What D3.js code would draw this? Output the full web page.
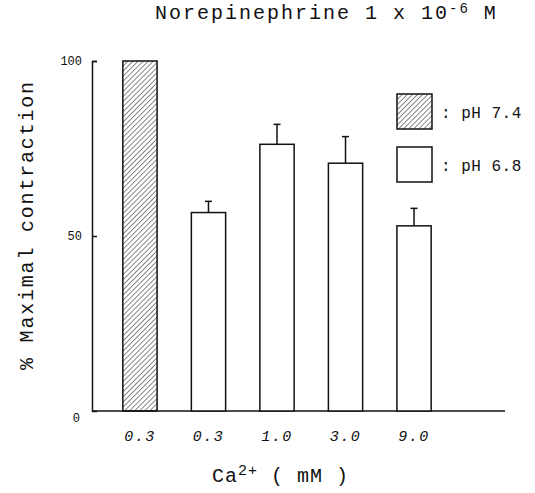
<!DOCTYPE html>
<html>
<head>
<meta charset="utf-8">
<script src="https://cdn.jsdelivr.net/npm/d3@7"></script>
<style>
  body { margin: 0; background: #fff; }
  svg text { font-family: "Liberation Mono", "DejaVu Sans Mono", monospace; fill: #111; }
</style>
</head>
<body>
<div id="chart"></div>
<script>
// data
const categories = ["0.3", "0.3", "1.0", "3.0", "9.0"];
const groups = ["pH 7.4", "pH 6.8", "pH 6.8", "pH 6.8", "pH 6.8"];
const means = [100, 56.7, 76.2, 70.8, 52.9];
const errors = [0, 3.2, 5.7, 7.6, 5.0];
const yTicks = [0, 50, 100];
const legendLabels = ["pH 7.4", "pH 6.8"];

const width = 535, height = 493;
const margin = { top: 61, left: 92, bottom: 82 };

const svg = d3.select("#chart")
  .append("svg")
  .attr("width", width)
  .attr("height", height);

// hatch pattern for pH 7.4
const defs = svg.append("defs");
defs.append("pattern")
  .attr("id", "hatch")
  .attr("patternUnits", "userSpaceOnUse")
  .attr("width", 3.6)
  .attr("height", 3.6)
  .attr("patternTransform", "rotate(45)")
  .append("line")
  .attr("x1", 0).attr("y1", 0)
  .attr("x2", 0).attr("y2", 3.6)
  .attr("stroke", "#111")
  .attr("stroke-width", 1);

const fillFor = g => g === "pH 7.4" ? "url(#hatch)" : "#fff";

// scales
const x = d3.scaleBand()
  .domain(d3.range(categories.length))
  .range([margin.left, 462])
  .paddingInner(0.5)
  .paddingOuter(0.45);

const y = d3.scaleLinear()
  .domain([0, 100])
  .range([height - margin.bottom, margin.top]);

// y axis
const yAxis = svg.append("g")
  .attr("transform", "translate(" + margin.left + ",0)")
  .call(d3.axisLeft(y).tickValues(yTicks).tickSize(-5).tickSizeOuter(-5).tickPadding(8));
yAxis.select(".domain").attr("stroke", "#111").attr("stroke-width", 1.5);
yAxis.selectAll(".tick line").attr("stroke", "#111").attr("stroke-width", 1.5);
yAxis.selectAll(".tick text")
  .style("font-size", "12px")
  .attr("dy", d => d === 0 ? "0.9em" : "0.32em")
  .attr("x", d => d === 0 ? -12 : -10);
yAxis.selectAll(".tick").filter(d => d === 0).select("line").remove();

// x axis labels
const xAxis = svg.append("g")
  .attr("transform", "translate(0," + y(0) + ")")
  .call(d3.axisBottom(x).tickSize(0).tickPadding(19).tickFormat(i => categories[i]));
xAxis.select(".domain").remove();
xAxis.selectAll(".tick text")
  .style("font-size", "15px")
  .attr("letter-spacing", "1.5px")
  .attr("font-style", "italic");

// baseline
svg.append("line")
  .attr("x1", margin.left).attr("x2", 505)
  .attr("y1", y(0)).attr("y2", y(0))
  .attr("stroke", "#111")
  .attr("stroke-width", 1.5);

// bars
svg.selectAll(".bar")
  .data(means)
  .enter()
  .append("rect")
  .attr("class", "bar")
  .attr("x", (d, i) => x(i))
  .attr("y", d => y(d))
  .attr("width", x.bandwidth())
  .attr("height", d => y(0) - y(d))
  .attr("fill", (d, i) => fillFor(groups[i]))
  .attr("stroke", "#111")
  .attr("stroke-width", 1.5);

// error bars
const err = svg.selectAll(".err")
  .data(means.map((m, i) => ({ m, e: errors[i], i })).filter(d => d.e > 0))
  .enter()
  .append("g")
  .attr("class", "err");
err.append("line")
  .attr("x1", d => x(d.i) + x.bandwidth() / 2)
  .attr("x2", d => x(d.i) + x.bandwidth() / 2)
  .attr("y1", d => y(d.m))
  .attr("y2", d => y(d.m + d.e))
  .attr("stroke", "#111")
  .attr("stroke-width", 1.5);
err.append("line")
  .attr("x1", d => x(d.i) + x.bandwidth() / 2 - 3.5)
  .attr("x2", d => x(d.i) + x.bandwidth() / 2 + 3.5)
  .attr("y1", d => y(d.m + d.e))
  .attr("y2", d => y(d.m + d.e))
  .attr("stroke", "#111")
  .attr("stroke-width", 1.5);

// legend
const legend = svg.selectAll(".legend")
  .data(legendLabels)
  .enter()
  .append("g")
  .attr("class", "legend")
  .attr("transform", (d, i) => "translate(397," + (94 + i * 53) + ")");
legend.append("rect")
  .attr("width", 35)
  .attr("height", 35)
  .attr("fill", d => fillFor(d))
  .attr("stroke", "#111")
  .attr("stroke-width", 1.5);
legend.append("text")
  .attr("x", 44)
  .attr("y", 24)
  .style("font-size", "16px")
  .attr("letter-spacing", "0.5px")
  .text(d => ":  " + d);

// title
const title = svg.append("text")
  .attr("x", 155)
  .attr("y", 19)
  .style("font-size", "20px")
  .attr("letter-spacing", "2px");
title.append("tspan").text("Norepinephrine 1 x 10");
title.append("tspan").attr("dy", -6).style("font-size", "14px").text("-6");
title.append("tspan").attr("dy", 6).text(" M");

// y label
svg.append("text")
  .attr("transform", "translate(33,370) rotate(-90)")
  .style("font-size", "20px")
  .attr("letter-spacing", "1.8px")
  .text("% Maximal contraction");

// x label
const xl = svg.append("text")
  .attr("x", 212)
  .attr("y", 482)
  .style("font-size", "20px")
  .attr("letter-spacing", "1px");
xl.append("tspan").text("Ca");
xl.append("tspan").attr("dy", -7).style("font-size", "15px").text("2+");
xl.append("tspan").attr("dy", 7).text(" ( mM )");
</script>
</body>
</html>
